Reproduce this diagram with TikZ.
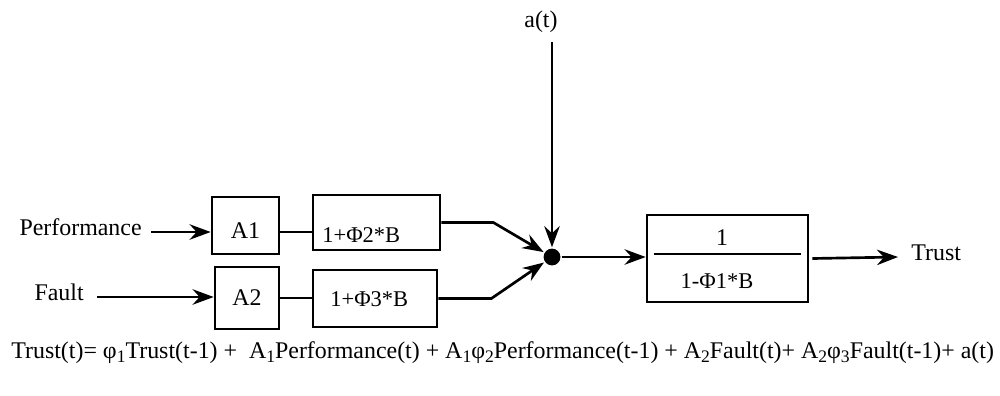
\documentclass[tikz,border=0pt]{standalone}
\usepackage{fontspec}
\setmainfont{Liberation Serif}
\usetikzlibrary{arrows.meta}
% lowered subscript in text font
\newcommand{\lowsub}[1]{\raisebox{-0.45ex}{\fontsize{12.5}{12.5}\selectfont #1}}
\newcommand{\smphi}{\char"03C6}
\begin{document}
\begin{tikzpicture}[x=0.025cm, y=-0.025cm,
    line width=1.9pt,
    font=\fontsize{17}{20}\selectfont,
    box/.style={draw, line width=1.9pt, inner sep=0pt},
    boxtext/.style={inner sep=0pt, font=\fontsize{16}{19}\selectfont},
    lbl/.style={inner sep=0pt},
    arr/.style={-{Stealth[length=15pt, width=11pt, inset=5pt]}},
    junction/.style={circle, fill=black, inner sep=0pt, minimum size=0.42cm}]
\useasboundingbox (0,0) rectangle (1000,395);

% blocks
\node[box, minimum width=1.675cm, minimum height=1.425cm] (a1) at (245.5,225.5) {};
\node[lbl, anchor=base] at (245.5,238) {A1};
\node[box, minimum width=1.6cm, minimum height=1.55cm] (a2) at (247,298) {};
\node[lbl, anchor=base] at (247,305) {A2};
\node[box, minimum width=3.175cm, minimum height=1.375cm] (b1) at (376.5,222.5) {};
\node[boxtext, anchor=base west] at (321,242) {1+Φ2*B};
\node[box, minimum width=3.1cm, minimum height=1.425cm] (b2) at (375,298.5) {};
\node[boxtext, anchor=base west] at (329,306) {1+Φ3*B};
\node[box, minimum width=4.025cm, minimum height=2.175cm] (tf) at (727.5,258.5) {};
\node[lbl, anchor=base] (num) at (722,245) {1};
\node[boxtext, anchor=base] (den) at (717,288) {1-Φ1*B};
\draw ([xshift=0.2cm, yshift=0.11cm]tf.west) -- ([xshift=-0.2cm, yshift=0.11cm]tf.east);

% summing junction
\node[junction] (sum) at (552,257) {};

% signal labels
\node[lbl, anchor=mid east, inner xsep=0.2cm] (perf) at (151,232) {Performance};
\node[lbl, anchor=mid east, inner xsep=0.3cm] (fault) at (97,297) {Fault};
\node[lbl, anchor=base] (at) at (541,27) {a(t)};
\coordinate (atop) at (552,42);
\node[lbl, anchor=mid west, inner xsep=0.3cm] (trust) at (898,257) {Trust};

% connectors
\draw[arr] (perf.mid east) -- (perf.mid east -| a1.west);
\draw[arr] (fault.mid east) -- (fault.mid east -| a2.west);
\draw (a1.east |- perf.mid east) -- (b1.west |- perf.mid east);
\draw (a2.east) -- (a2.east -| b2.west);
\draw[arr] (b1.east) -- ++(52,0) -- (sum);
\draw[arr] (b2.east) -- ++(53,0) -- (sum);
\draw[arr] (atop) -- (sum);
\draw[arr] (sum) -- (sum -| tf.west);
\draw[arr] ([xshift=0.075cm]tf.east) -- (trust.mid west);

% model equation
\node[lbl, anchor=base west] (eq) at (10,358) {Trust(t)= \smphi\lowsub{1}Trust(t-1) +\ \ A\lowsub{1}Performance(t) + A\lowsub{1}\smphi\lowsub{2}Performance(t-1) + A\lowsub{2}Fault(t)+ A\lowsub{2}\smphi\lowsub{3}Fault(t-1)+ a(t)};
\end{tikzpicture}
\end{document}
